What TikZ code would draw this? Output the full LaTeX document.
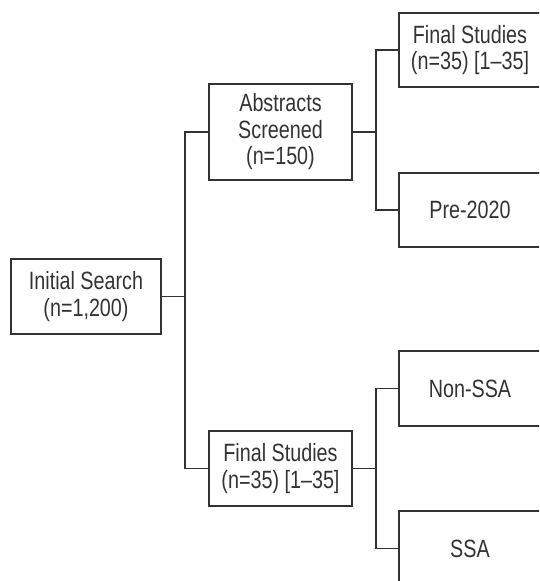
\documentclass[tikz,border=0pt]{standalone}
\usepackage{fontspec}
\setmainfont[FakeStretch=0.79]{Liberation Sans}
\definecolor{ink}{HTML}{333333}
\begin{document}
\begin{tikzpicture}[x=1pt,y=-1pt,
  box/.style={draw=ink,line width=1.1pt,rectangle,inner sep=0pt,align=center,
    text=ink,font=\fontsize{25}{26.5}\selectfont},
  link/.style={draw=ink,line width=1.1pt}]
\useasboundingbox (0,0) rectangle (539,581);
\clip (0,0) rectangle (539,581);
\node[box,minimum width=150pt,minimum height=75pt] (init) at (86,296.5) {Initial Search\\(n=1,200)};
\node[box,minimum width=143pt,minimum height=96pt] (abs) at (280.5,132) {Abstracts\\Screened\\(n=150)};
\node[box,minimum width=143pt,minimum height=75pt] (fin) at (280.5,468.5) {Final Studies\\(n=35) [1–35]};
\node[box,minimum width=142pt,minimum height=74pt] (fs) at (470,50) {Final Studies\\(n=35) [1–35]};
\node[box,minimum width=142pt,minimum height=74pt] (pre) at (470,210) {Pre-2020};
\node[box,minimum width=142pt,minimum height=75pt] (non) at (470,388.5) {Non-SSA};
\node[box,minimum width=142pt,minimum height=75pt] (ssa) at (470,548.5) {SSA};
\coordinate (ta) at (185,0);
\coordinate (tb) at (376,0);
\draw[link] (init.east) -- (init.east -| ta);
\draw[link] (abs.west) -- (abs.west -| ta) |- (fin.west);
\draw[link] (abs.east) -- (abs.east -| tb);
\draw[link] (fs.west) -- (fs.west -| tb) |- (pre.west);
\draw[link] (fin.east) -- (fin.east -| tb);
\draw[link] (non.west) -- (non.west -| tb) |- (ssa.west);
\end{tikzpicture}
\end{document}
